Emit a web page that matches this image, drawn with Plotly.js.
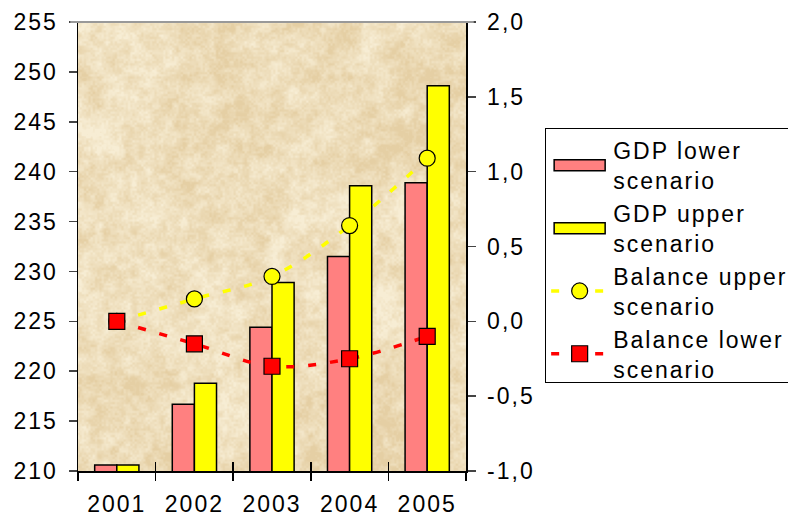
<!DOCTYPE html>
<html>
<head>
<meta charset="utf-8">
<script src="https://cdn.plot.ly/plotly-3.0.1.min.js"></script>
<style>
html,body{margin:0;padding:0;background:#fff;overflow:hidden;}
#chart{width:788px;height:518px;}
#chart svg text{letter-spacing:2px;}
</style>
</head>
<body>
<div id="chart"></div>
<script>
var years = ['2001', '2002', '2003', '2004', '2005'];
var gdpLower = [210.6, 216.7, 224.4, 231.5, 238.9];
var gdpUpper = [210.6, 218.8, 228.9, 238.6, 248.6];
var balanceUpper = [0.0, 0.15, 0.30, 0.64, 1.09];
var balanceLower = [0.0, -0.15, -0.30, -0.25, -0.10];
var seriesNames = ['GDP lower<br>scenario', 'GDP upper<br>scenario', 'Balance upper<br>scenario', 'Balance lower<br>scenario'];
var rightTickVals = [-1, -0.5, 0, 0.5, 1, 1.5, 2];
var rightTickText = ['-1,0', '-0,5', '0,0', '0,5', '1,0', '1,5', '2,0'];

var font = {family: 'Liberation Sans, Arial, sans-serif', size: 23, color: '#000'};

// parchment-like background texture (deterministic value noise)
function makeTexture(w, h) {
  var c = document.createElement('canvas');
  c.width = w; c.height = h;
  var ctx = c.getContext('2d');
  var img = ctx.createImageData(w, h);
  function hash(x, y) { var s = Math.sin(x * 127.1 + y * 311.7) * 43758.5453; return s - Math.floor(s); }
  function smooth(t) { return t * t * (3 - 2 * t); }
  function noise(x, y) {
    var xi = Math.floor(x), yi = Math.floor(y), xf = x - xi, yf = y - yi;
    var a = hash(xi, yi), b = hash(xi + 1, yi), cc = hash(xi, yi + 1), d = hash(xi + 1, yi + 1);
    var u = smooth(xf), v = smooth(yf);
    return a + (b - a) * u + (cc - a) * v + (a - b - cc + d) * u * v;
  }
  var light = [247, 237, 212], dark = [229, 207, 164];
  for (var y = 0; y < h; y++) {
    for (var x = 0; x < w; x++) {
      var n = 0.22 * noise(x / 60, y / 60) + 0.30 * noise(x / 18 + 11, y / 18 + 7) +
              0.26 * noise(x / 7 + 3, y / 7 + 19) + 0.22 * noise(x / 2.2 + 5, y / 2.2 + 2);
      var t = Math.min(1, Math.max(0, (n - 0.25) / 0.5));
      var i = (y * w + x) * 4;
      img.data[i] = light[0] + (dark[0] - light[0]) * t;
      img.data[i + 1] = light[1] + (dark[1] - light[1]) * t;
      img.data[i + 2] = light[2] + (dark[2] - light[2]) * t;
      img.data[i + 3] = 255;
    }
  }
  ctx.putImageData(img, 0, 0);
  return c.toDataURL('image/png');
}
var texture = makeTexture(388, 449);

var traces = [
  {type: 'bar', x: years, y: gdpLower, name: seriesNames[0],
   marker: {color: '#FF8080', line: {color: '#000', width: 1.5}}, hoverinfo: 'skip'},
  {type: 'bar', x: years, y: gdpUpper, name: seriesNames[1],
   marker: {color: '#FFFF00', line: {color: '#000', width: 1.5}}, hoverinfo: 'skip'},
  {type: 'scatter', mode: 'lines+markers', x: years, y: balanceUpper, yaxis: 'y2', name: seriesNames[2],
   line: {color: '#FFFF00', width: 3.5, dash: '8px,14px', shape: 'spline'},
   marker: {symbol: 'circle', size: 16, color: '#FFFF00', line: {color: '#000', width: 1.2}}, hoverinfo: 'skip'},
  {type: 'scatter', mode: 'lines+markers', x: years, y: balanceLower, yaxis: 'y2', name: seriesNames[3],
   line: {color: '#FF0000', width: 3.5, dash: '8px,14px', shape: 'spline'},
   marker: {symbol: 'square', size: 16, color: '#FF0000', line: {color: '#000', width: 1.2}}, hoverinfo: 'skip'},
  // helper trace so the inside ticks of the overlaid x axis are drawn
  {type: 'scatter', x: years, y: gdpLower, xaxis: 'x2', mode: 'none', showlegend: false, hoverinfo: 'skip'}
];

var layout = {
  width: 788, height: 518,
  margin: {l: 78, r: 322, t: 22, b: 47},
  paper_bgcolor: '#ffffff',
  plot_bgcolor: '#EDDCBC',
  separators: ',.',
  font: font,
  barmode: 'group',
  bargap: 0.43,
  bargroupgap: 0,
  showlegend: true,
  legend: {x: 1.204, y: 0.764, xanchor: 'left', yanchor: 'top',
           bgcolor: '#fff', bordercolor: '#000', borderwidth: 1,
           font: font, tracegroupgap: 4, itemwidth: 57},
  images: [{source: texture, xref: 'paper', yref: 'paper', x: 0, y: 1, sizex: 1, sizey: 1,
            xanchor: 'left', yanchor: 'top', sizing: 'stretch', layer: 'below'}],
  shapes: [{type: 'line', xref: 'paper', yref: 'paper', x0: -0.02, x1: 1.02, y0: 1, y1: 1,
            line: {color: '#999', width: 2}}],
  xaxis: {type: 'category', range: [-0.5, 4.5], showgrid: false, zeroline: false,
          showline: true, linecolor: '#000', linewidth: 1.5,
          ticks: 'outside', tickson: 'boundaries', ticklen: 8, tickcolor: '#000', tickwidth: 1.5,
          tickfont: font, ticklabelstandoff: 12, fixedrange: true},
  xaxis2: {type: 'category', range: [-0.5, 4.5], overlaying: 'x', matches: 'x', showgrid: false, zeroline: false,
          showline: false, ticks: 'inside', tickson: 'boundaries', ticklen: 9, tickcolor: '#000', tickwidth: 1.5,
          showticklabels: false},
  yaxis: {range: [210, 255], dtick: 5, showgrid: false, zeroline: false,
          showline: true, linecolor: '#000', linewidth: 1.5,
          ticks: 'outside', ticklen: 8, tickcolor: '#444', tickwidth: 1.5,
          tickfont: font, ticklabelstandoff: 6, fixedrange: true},
  yaxis2: {range: [-1, 2], tickmode: 'array', tickvals: rightTickVals, ticktext: rightTickText,
           overlaying: 'y', side: 'right',
           showgrid: false, zeroline: false, showline: true, linecolor: '#000', linewidth: 1.5,
           ticks: 'outside', ticklen: 8, tickcolor: '#444', tickwidth: 1.5,
           tickfont: font, ticklabelstandoff: 7, fixedrange: true}
};

Plotly.newPlot('chart', traces, layout, {displayModeBar: false, staticPlot: true}).then(function (gd) {
  // widen the bar swatches in the legend to match the original rectangles
  var items = gd.querySelectorAll('.legend .traces');
  for (var i = 0; i < 2 && i < items.length; i++) {
    var p = items[i].querySelector('.legendpoints path');
    if (p) p.setAttribute('d', 'M25.5,5.5H-25.5V-5.5H25.5Z');
  }
  // let the legend box run past the right edge of the page, as in the original
  var leg = gd.querySelector('.legend');
  if (leg) {
    var bg = leg.querySelector('rect.bg');
    if (bg) { bg.setAttribute('width', 270); bg.setAttribute('height', 254); }
    var clipped = leg.querySelectorAll('[clip-path]');
    for (var j = 0; j < clipped.length; j++) clipped[j].removeAttribute('clip-path');
    var sb = leg.querySelector('.scrollbar');
    if (sb) sb.style.display = 'none';
  }
});
</script>
</body>
</html>
